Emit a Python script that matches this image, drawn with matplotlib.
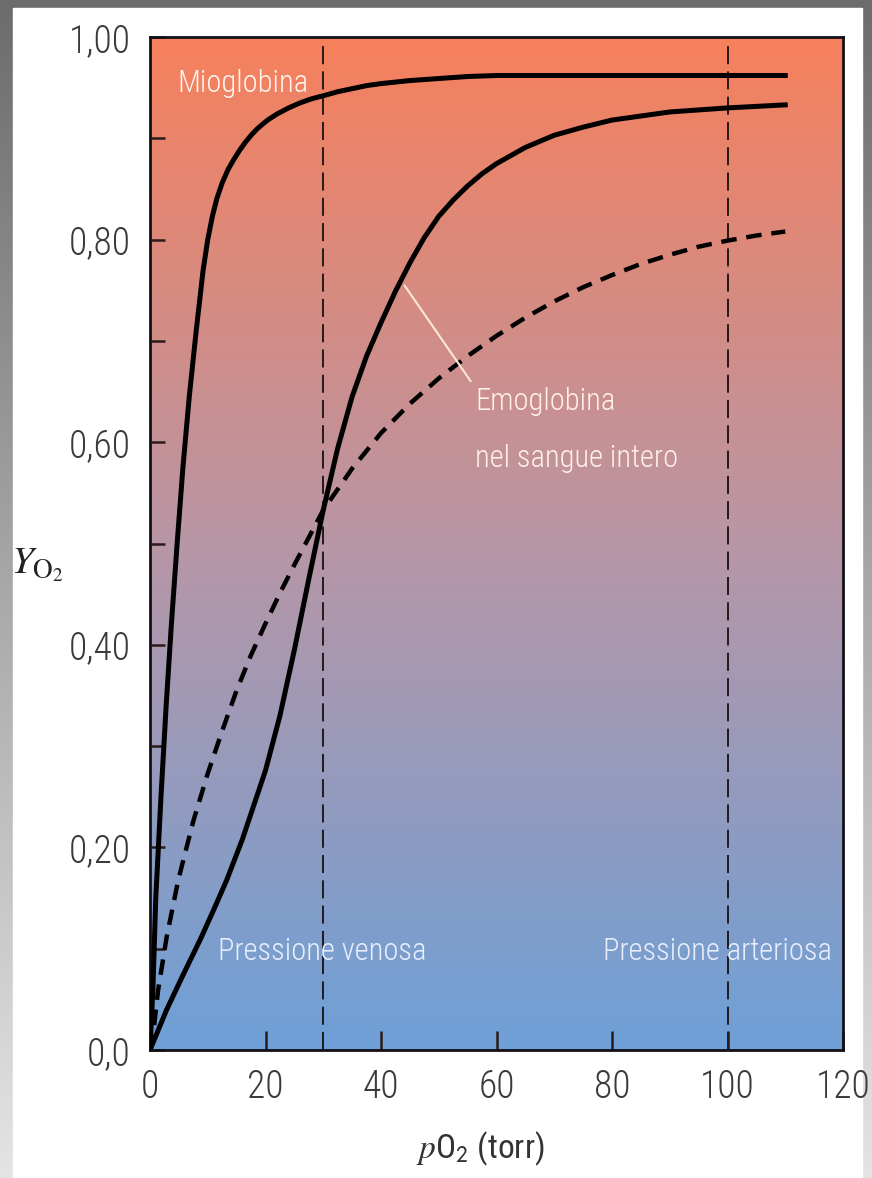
import numpy as np
import matplotlib
matplotlib.use("Agg")
import matplotlib.pyplot as plt
from matplotlib import font_manager
from matplotlib.colors import LinearSegmentedColormap
from matplotlib.patches import Rectangle

# ---- Dati ---------------------------------------------------
po2_mio = [0, 0.5, 1.0, 1.9, 2.8, 3.7, 4.7, 5.7, 6.8, 8.0, 9.2, 10.0, 10.8,
           11.6, 12.5, 13.5, 14.5, 15.5, 16.5, 17.5, 18.5, 19.5, 20.5, 22,
           24, 26, 28, 30, 32.5, 35, 37.5, 40, 45, 50, 55, 60, 80, 110]
y_mio = [0, 0.06, 0.15, 0.25, 0.34, 0.42, 0.50, 0.575, 0.645, 0.71, 0.77,
         0.80, 0.823, 0.841, 0.856, 0.869, 0.879, 0.888, 0.896, 0.903, 0.909,
         0.914, 0.9185, 0.924, 0.930, 0.935, 0.939, 0.942, 0.946, 0.949,
         0.952, 0.954, 0.957, 0.959, 0.961, 0.962, 0.962, 0.962]

po2_emo = [0, 2.9, 5.8, 8.7, 11, 13.3, 16, 18, 20, 22.5, 25, 27.5, 30, 32.5,
           35, 37.5, 40, 42.5, 45, 47.5, 50, 52.5, 55, 57.5, 60, 65, 70, 75,
           80, 85, 90, 100, 110]
y_emo = [0, 0.04, 0.075, 0.109, 0.138, 0.168, 0.208, 0.242, 0.276, 0.33,
         0.395, 0.465, 0.533, 0.594, 0.645, 0.685, 0.718, 0.749, 0.777, 0.802,
         0.823, 0.839, 0.853, 0.865, 0.875, 0.891, 0.903, 0.911, 0.918, 0.922,
         0.926, 0.930, 0.933]

po2_sangue = [0, 0.5, 1.4, 2.9, 4.9, 7.5, 10, 12.5, 15, 17.5, 20, 22.5, 25,
              27.5, 30, 35, 40, 45, 50, 55, 60, 65, 70, 75, 80, 85, 90, 95,
              100, 105, 110]
y_sangue = [0, 0.013, 0.059, 0.112, 0.168, 0.226, 0.273, 0.315, 0.355, 0.39,
            0.421, 0.451, 0.479, 0.506, 0.533, 0.574, 0.609, 0.638, 0.663,
            0.685, 0.705, 0.723, 0.739, 0.753, 0.765, 0.776, 0.785, 0.793,
            0.799, 0.804, 0.808]

p_venosa = 30
p_arteriosa = 100

xticks = [0, 20, 40, 60, 80, 100, 120]
yticks = [0.0, 0.2, 0.4, 0.6, 0.8, 1.0]
ytick_labels = ["0,0", "0,20", "0,40", "0,60", "0,80", "1,00"]
yticks_minor = [0.1, 0.3, 0.5, 0.7, 0.9]

# ---- Font stretto se disponibile ----------------------------
ttf = font_manager.fontManager.ttflist
famiglia = "DejaVu Sans"
for nome in ["Roboto Condensed", "Archivo Narrow", "Asap Condensed"]:
    if any(f.name == nome for f in ttf):
        famiglia = nome
        break
plt.rcParams["font.family"] = [famiglia, "DejaVu Sans"]
plt.rcParams["font.weight"] = "light"
plt.rcParams["mathtext.fontset"] = "stix"

# ---- Figura e cornice grigia --------------------------------
fig = plt.figure(figsize=(8.72, 11.78), dpi=100)
sfondo = fig.add_axes([0, 0, 1, 1], zorder=-10)
grad = np.linspace(0, 1, 256)[:, None]
sfondo.imshow(grad, cmap=LinearSegmentedColormap.from_list("cornice", ["#6c6c6c", "#e4e4e4"]),
              aspect="auto", extent=[0, 1, 0, 1], origin="upper")
sfondo.add_patch(Rectangle((13 / 872, 0), (862 - 13) / 872, (1178 - 8) / 1178,
                           color="white", zorder=2))
sfondo.set_xlim(0, 1)
sfondo.set_ylim(0, 1)
sfondo.axis("off")

# ---- Assi con sfumatura ------------------------------------
ax = fig.add_axes([150 / 872, 128 / 1178, 693 / 872, 1013 / 1178])
ax.set_xlim(0, 120)
ax.set_ylim(0, 1)
sfum = LinearSegmentedColormap.from_list("sfum", ["#f6805c", "#b896a6", "#6ea0d7"])
ax.imshow(grad, cmap=sfum, aspect="auto", extent=[0, 120, 0, 1], origin="upper", zorder=0)

ax.axvline(p_venosa, color="#1a1010", lw=1.3, dashes=(10, 4), zorder=1)
ax.axvline(p_arteriosa, color="#1a1010", lw=1.3, dashes=(10, 4), zorder=1)

ax.plot(po2_mio, y_mio, color="black", lw=3.6, zorder=3, solid_joinstyle="round")
ax.plot(po2_emo, y_emo, color="black", lw=3.6, zorder=3, solid_joinstyle="round")
ax.plot(po2_sangue, y_sangue, color="black", lw=3.2, dashes=(3.5, 2.2), zorder=3)

# ---- Etichette interne --------------------------------------
ax.text(4.7, 0.946, "Mioglobina", color="#fff5ee", fontsize=22, va="baseline", zorder=4)
ax.annotate("", xy=(43.8, 0.757), xytext=(55.8, 0.658),
            arrowprops=dict(arrowstyle="-", color="#fde6d6", lw=1.5), zorder=4)
ax.text(56.3, 0.576, "Emoglobina\nnel sangue intero", color="#fff0e8", fontsize=22,
        va="baseline", linespacing=2.2, zorder=4)
ax.text(11.8, 0.089, "Pressione venosa", color="#e8eefc", fontsize=22, va="baseline", zorder=4)
ax.text(118.1, 0.089, "Pressione arteriosa", color="#e8eefc", fontsize=22,
        va="baseline", ha="right", zorder=4)

# ---- Tacche e assi ------------------------------------------
ax.set_xticks(xticks)
ax.set_yticks(yticks)
ax.set_yticklabels(ytick_labels)
ax.set_yticks(yticks_minor, minor=True)
ax.tick_params(axis="x", direction="in", length=14, width=1.8, color="#2a1a1a",
               labelsize=27, labelcolor="#3a3a3a", pad=13)
ax.tick_params(axis="y", which="both", direction="in", length=11, width=1.8,
               color="#2a1a1a", labelsize=27, labelcolor="#3a3a3a", pad=14)
for sp in ax.spines.values():
    sp.set_linewidth(2.0)
    sp.set_color("#141018")

ax.set_ylabel(r"$Y_{\mathrm{O}_2}$", rotation=0, fontsize=28, color="#222222",
              ha="center", va="center")
ax.yaxis.set_label_coords(-0.162, 0.479)
ax.set_xlabel(r"$p$O$_\mathsf{2}$ (torr)", fontsize=24, color="#333333", va="center")
ax.xaxis.set_label_coords(0.476, -0.098)

fig.savefig("out.png", dpi=100)
